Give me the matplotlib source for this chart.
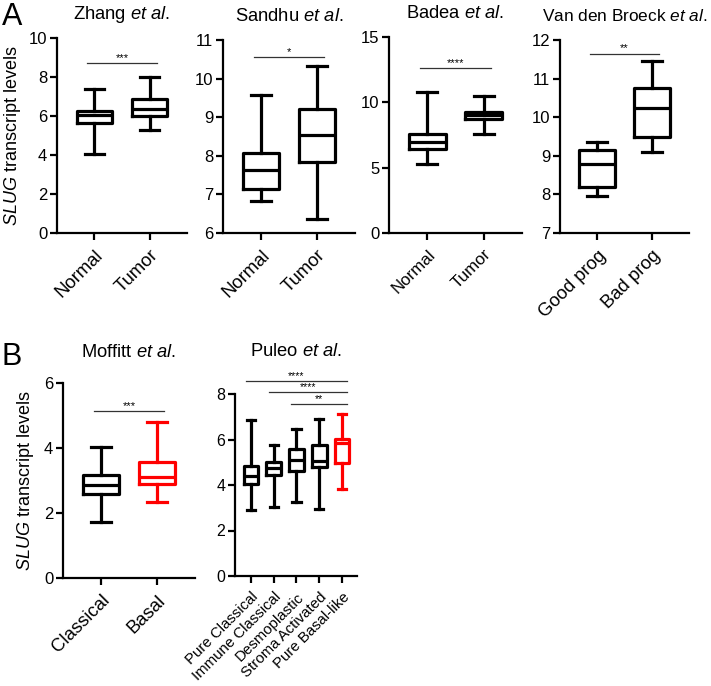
import matplotlib
matplotlib.use("Agg")
import matplotlib.pyplot as plt

plt.rcParams['font.family'] = ['Liberation Sans', 'DejaVu Sans']
plt.rcParams['mathtext.fontset'] = 'custom'
plt.rcParams['mathtext.rm'] = 'Liberation Sans'
plt.rcParams['mathtext.it'] = 'Liberation Sans:italic'

# ---------------- data ----------------
zhang_cats = ["Normal", "Tumor"]
zhang_lo = [4.05, 5.3]
zhang_q1 = [5.65, 6.0]
zhang_med = [6.05, 6.35]
zhang_q3 = [6.25, 6.85]
zhang_hi = [7.4, 8.0]

sandhu_cats = ["Normal", "Tumor"]
sandhu_lo = [6.82, 6.37]
sandhu_q1 = [7.15, 7.83]
sandhu_med = [7.63, 8.55]
sandhu_q3 = [8.08, 9.2]
sandhu_hi = [9.57, 10.33]

badea_cats = ["Normal", "Tumor"]
badea_lo = [5.3, 7.6]
badea_q1 = [6.4, 8.7]
badea_med = [7.0, 9.0]
badea_q3 = [7.55, 9.25]
badea_hi = [10.8, 10.5]

vdb_cats = ["Good prog", "Bad prog"]
vdb_lo = [7.95, 9.1]
vdb_q1 = [8.2, 9.48]
vdb_med = [8.8, 10.25]
vdb_q3 = [9.15, 10.75]
vdb_hi = [9.37, 11.45]

moffitt_cats = ["Classical", "Basal"]
moffitt_lo = [1.72, 2.33]
moffitt_q1 = [2.58, 2.9]
moffitt_med = [2.85, 3.12]
moffitt_q3 = [3.17, 3.57]
moffitt_hi = [4.03, 4.8]

puleo_cats = ["Pure Classical", "Immune Classical", "Desmoplastic",
              "Stroma Activated", "Pure Basal-like"]
puleo_lo = [2.89, 3.05, 3.24, 2.93, 3.82]
puleo_q1 = [4.03, 4.45, 4.63, 4.78, 4.98]
puleo_med = [4.41, 4.75, 5.10, 5.07, 5.86]
puleo_q3 = [4.82, 5.03, 5.58, 5.74, 6.01]
puleo_hi = [6.86, 5.74, 6.48, 6.90, 7.11]

# significance brackets: (group_from, group_to, y, label)
zhang_sig = [(1, 2, 8.7, "***")]
sandhu_sig = [(1, 2, 10.57, "*")]
badea_sig = [(1, 2, 12.6, "****")]
vdb_sig = [(1, 2, 11.65, "**")]
moffitt_sig = [(1, 2, 5.13, "***")]
puleo_sig = [(1, 5, 8.56, "****"), (2, 5, 8.07, "****"), (3, 5, 7.56, "**")]

# ---------------- figure ----------------
fig = plt.figure(figsize=(7.11, 6.86), dpi=100)
W, H = 711, 686


def axes_px(x0, x1, ytop, ybot):
    return fig.add_axes([x0 / W, 1 - ybot / H, (x1 - x0) / W, (ybot - ytop) / H])


def panel(ax, cats, lo, q1, med, q3, hi, colors, yticks, title, sig,
          xlim, tick_fs=12, xlab_fs=13.3, star_fs=8, title_pad=14, ext=0.13,
          title_fs=13.2):
    stats = []
    for i in range(len(cats)):
        stats.append(dict(whislo=lo[i], q1=q1[i], med=med[i], q3=q3[i],
                          whishi=hi[i], fliers=[], label=cats[i]))
    pos = list(range(1, len(cats) + 1))
    lw = 2.3
    bp = ax.bxp(stats, positions=pos, widths=0.65, showfliers=False,
                patch_artist=False, manage_ticks=False)
    for i, c in enumerate(colors):
        bp['boxes'][i].set(color=c, linewidth=lw)
        bp['medians'][i].set(color=c, linewidth=lw)
        for w in bp['whiskers'][2 * i:2 * i + 2]:
            w.set(color=c, linewidth=lw)
        for cp in bp['caps'][2 * i:2 * i + 2]:
            cp.set(color=c, linewidth=lw)
            xd = cp.get_xdata()
            cx = (xd[0] + xd[1]) / 2
            cp.set_xdata([cx - 0.18, cx + 0.18])
    ax.set_xlim(*xlim)
    ax.set_ylim(yticks[0], yticks[-1])
    ax.set_yticks(yticks)
    ax.set_yticklabels([str(t) for t in yticks], fontsize=tick_fs)
    ax.set_xticks(pos)
    ax.set_xticklabels(cats, rotation=45, ha='right', rotation_mode='anchor',
                       fontsize=xlab_fs)
    for s in ['top', 'right']:
        ax.spines[s].set_visible(False)
    for s in ['left', 'bottom']:
        ax.spines[s].set_linewidth(1.6)
    ax.tick_params(axis='both', direction='out', length=5, width=1.6, pad=2)
    ax.tick_params(axis='x', pad=5)
    ax.set_title(title, fontsize=title_fs, pad=title_pad)
    for (a, b, y, lab) in sig:
        ax.plot([a - ext, b + ext], [y, y], color='#333333', lw=0.9,
                clip_on=False)
        ax.text((a + b) / 2, y, lab, ha='center', va='bottom',
                fontsize=star_fs, clip_on=False)


black = 'black'
red = '#ff0000'

ax1 = axes_px(57, 187, 38, 233)
panel(ax1, zhang_cats, zhang_lo, zhang_q1, zhang_med, zhang_q3, zhang_hi,
      [black, black], [0, 2, 4, 6, 8, 10], r"Zhang $\it{et\ al}$.", zhang_sig,
      (0.32, 2.68))
ax1.set_ylabel(r"$\it{SLUG}$ transcript levels", fontsize=13, labelpad=4)

ax2 = axes_px(223, 355, 40, 233)
panel(ax2, sandhu_cats, sandhu_lo, sandhu_q1, sandhu_med, sandhu_q3, sandhu_hi,
      [black, black], [6, 7, 8, 9, 10, 11], r"Sandhu $\it{et\ al}$.", sandhu_sig,
      (0.32, 2.68))

ax3 = axes_px(389, 522, 37, 233)
panel(ax3, badea_cats, badea_lo, badea_q1, badea_med, badea_q3, badea_hi,
      [black, black], [0, 5, 10, 15], r"Badea $\it{et\ al}$.", badea_sig,
      (0.32, 2.68), xlab_fs=12.2)

ax4 = axes_px(560, 689, 40, 233)
panel(ax4, vdb_cats, vdb_lo, vdb_q1, vdb_med, vdb_q3, vdb_hi,
      [black, black], [7, 8, 9, 10, 11, 12], r"Van den Broeck $\it{et\ al}$.",
      vdb_sig, (0.32, 2.68), title_fs=12.4)

ax5 = axes_px(63, 195, 383, 578)
panel(ax5, moffitt_cats, moffitt_lo, moffitt_q1, moffitt_med, moffitt_q3,
      moffitt_hi, [black, red], [0, 2, 4, 6], r"Moffitt $\it{et\ al}$.",
      moffitt_sig, (0.32, 2.68), title_pad=19)
ax5.set_ylabel(r"$\it{SLUG}$ transcript levels", fontsize=13, labelpad=6)

ax6 = axes_px(235, 357, 394, 576)
panel(ax6, puleo_cats, puleo_lo, puleo_q1, puleo_med, puleo_q3, puleo_hi,
      [black, black, black, black, red], [0, 2, 4, 6, 8],
      r"Puleo $\it{et\ al}$.", puleo_sig, (0.30, 5.66), tick_fs=11.5,
      xlab_fs=10.8, star_fs=7.5, title_pad=27, ext=0.22)

fig.text(2 / W, 1 - 2 / H, "A", fontsize=22, va='top', ha='left')
fig.text(2 / W, 1 - 342 / H, "B", fontsize=22, va='top', ha='left')

fig.savefig("out.png", dpi=100)
